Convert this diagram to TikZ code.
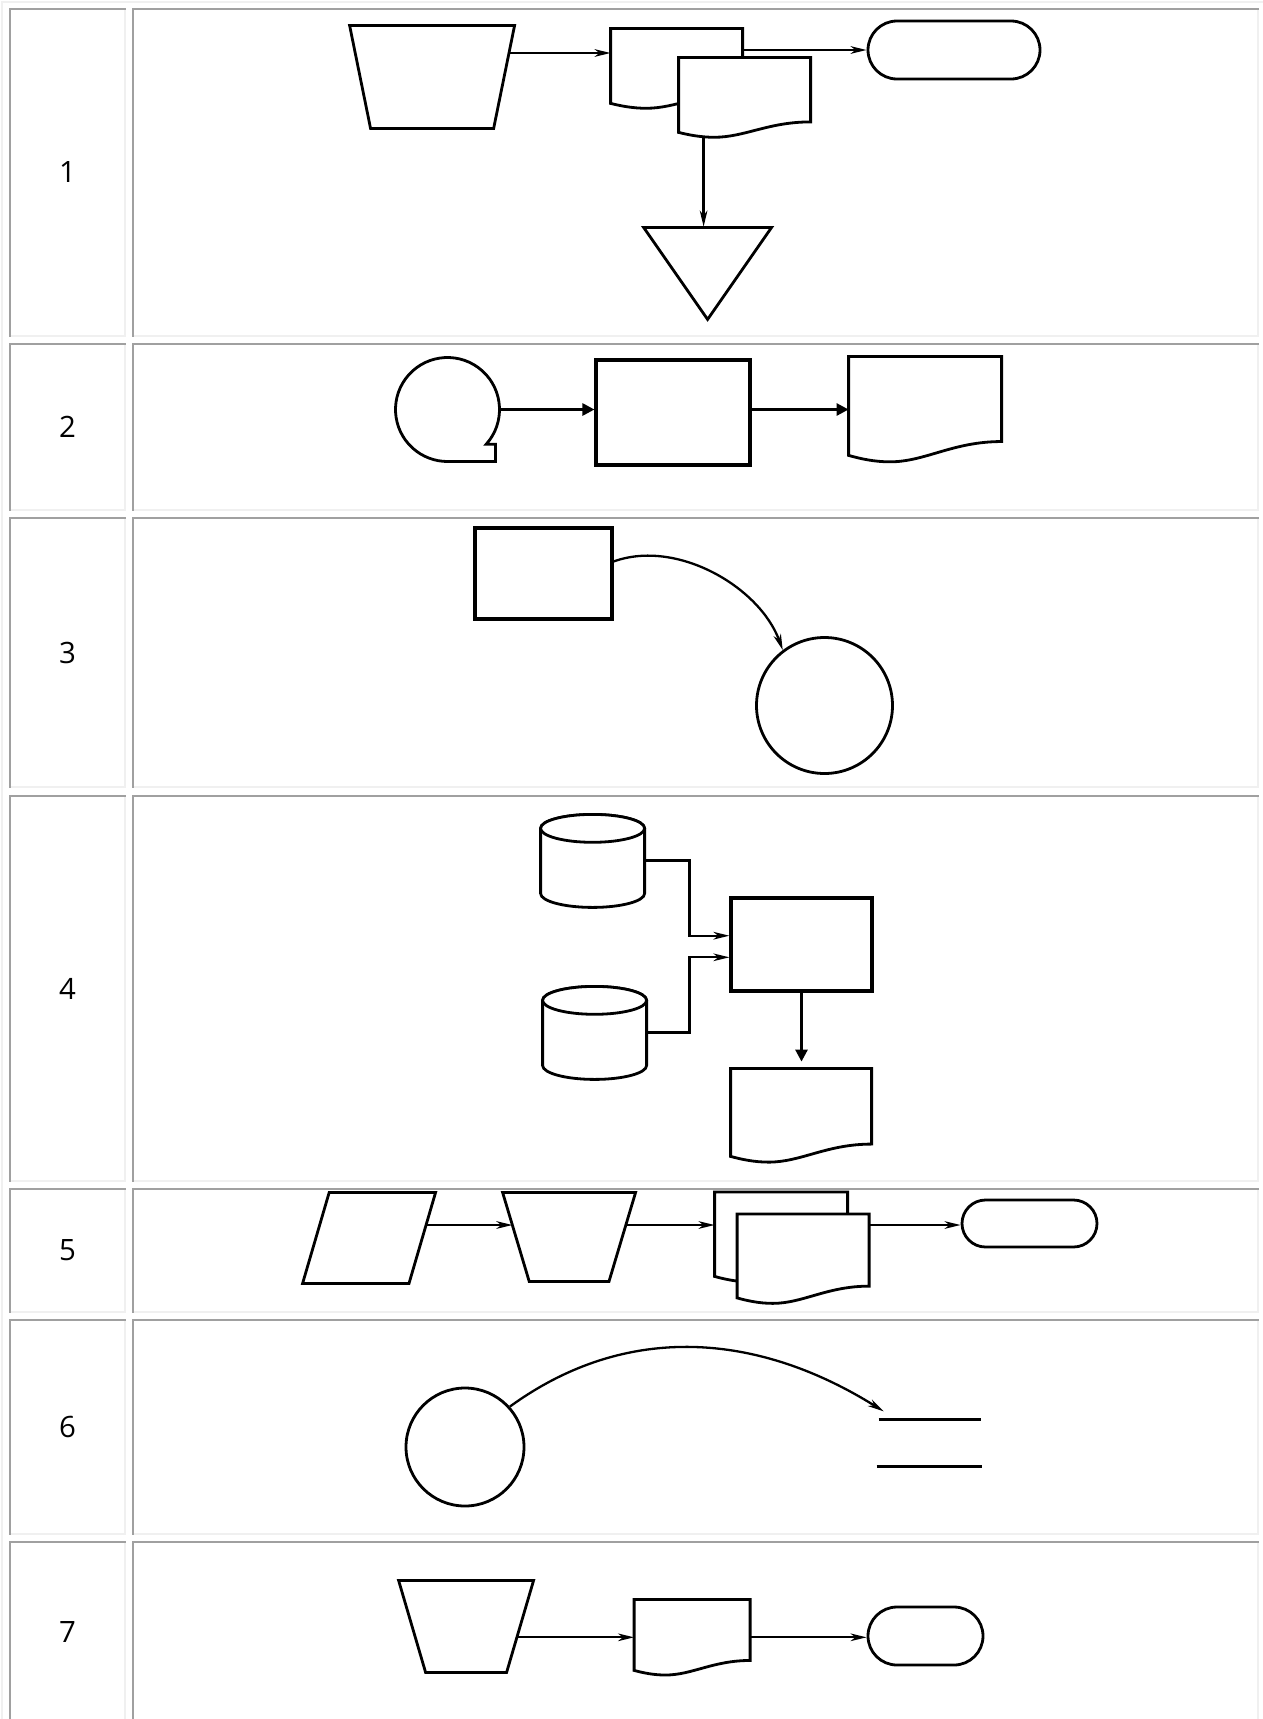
\documentclass[tikz,border=0pt]{standalone}
\usepackage{fontspec}
\newfontfamily\labelfont{Open Sans}
\usepackage{tikz}
\usetikzlibrary{arrows.meta,calc}
\usepackage{xcolor}
\definecolor{celldark}{HTML}{A0A0A0}
\definecolor{celllight}{HTML}{F0F0F0}
\tikzset{
  outline/.style={draw=black,line width=1.4pt,fill=white,line join=miter},
  flowline/.style={-{Stealth[length=8pt,width=3.8pt,inset=2.4pt]},line width=1.15pt},
  flowsolid/.style={-{Triangle[length=6pt,width=6pt]},line width=1.35pt},
  edgedark/.style={draw=celldark,line width=1pt,line cap=rect},
  edgelight/.style={draw=celllight,line width=1pt,line cap=rect},
  rowlabel/.style={font=\labelfont\fontsize{14.7}{17}\selectfont,inner sep=0pt},
  boxnode/.style 2 args={draw=none,rectangle,inner sep=0pt,minimum width=#1,minimum height=#2},
  procbox/.style 2 args={boxnode={#1}{#2},draw=black,line width=1.55pt,fill=white},
  termbox/.style n args={3}{boxnode={#1}{#2},draw=black,line width=1.4pt,fill=white,rounded corners=#3},
  circbox/.style={circle,draw=black,line width=1.4pt,fill=white,inner sep=0pt,minimum size=#1},
  docbox/.style 2 args={boxnode={#1}{#2},append after command={\pgfextra{\begin{pgfinterruptpath}
    \draw[outline,shift={(\tikzlastnode.south west)},x=#1,y=#2]
      (0,0) -- (0,1) -- (1,1) -- (1,0.14) .. controls (0.68,0.14) and (0.5,-0.065) .. (0.27,-0.065)
      .. controls (0.17,-0.065) and (0.08,-0.035) .. (0,0) -- cycle;
    \end{pgfinterruptpath}}}},
  manbox/.style n args={3}{boxnode={#1}{#2},append after command={\pgfextra{\begin{pgfinterruptpath}
    \draw[outline,shift={(\tikzlastnode.south west)},x=#1,y=#2] (0,1) -- (1,1) -- ({1-#3},0) -- (#3,0) -- cycle;
    \end{pgfinterruptpath}}}},
  databox/.style n args={3}{boxnode={#1}{#2},append after command={\pgfextra{\begin{pgfinterruptpath}
    \draw[outline,shift={(\tikzlastnode.south west)},x=#1,y=#2] (0,0) -- ({1-#3},0) -- (1,1) -- (#3,1) -- cycle;
    \end{pgfinterruptpath}}}},
  mergebox/.style 2 args={boxnode={#1}{#2},append after command={\pgfextra{\begin{pgfinterruptpath}
    \draw[outline,shift={(\tikzlastnode.south west)},x=#1,y=#2] (0,1) -- (1,1) -- (0.5,0) -- cycle;
    \end{pgfinterruptpath}}}},
  dbbox/.style n args={3}{boxnode={#1}{#2},append after command={\pgfextra{\begin{pgfinterruptpath}
    \draw[outline,shift={(\tikzlastnode.south west)},x=#1,y=#2] (0,{1-#3}) -- (0,#3)
      arc[start angle=180,end angle=360,x radius=0.5,y radius=#3] -- (1,{1-#3})
      arc[start angle=0,end angle=180,x radius=0.5,y radius=#3] -- cycle;
    \draw[outline,shift={(\tikzlastnode.south west)},x=#1,y=#2] (0.5,{1-#3}) ellipse[x radius=0.5,y radius=#3];
    \end{pgfinterruptpath}}}},
  storebox/.style 2 args={boxnode={#1}{#2},append after command={\pgfextra{\begin{pgfinterruptpath}
    \draw[outline] ([xshift=1pt]\tikzlastnode.north west) -- ([xshift=-0.5pt]\tikzlastnode.north east);
    \draw[outline,line width=1.55pt] (\tikzlastnode.south west) -- (\tikzlastnode.south east);
    \end{pgfinterruptpath}}}},
  tapebox/.style={circle,inner sep=0pt,minimum size=52pt,append after command={\pgfextra{\begin{pgfinterruptpath}
    \draw[outline,shift={(\tikzlastnode.center)}] (-42:52) arc[start angle=-42,end angle=270,radius=52]
      -- (48,-52) -- (48,-34.8) -- cycle;
    \end{pgfinterruptpath}}}}
}

\begin{document}
\begin{tikzpicture}[x=0.5pt,y=0.5pt]
  \useasboundingbox (0,0) rectangle (1263,-1719);
  % table
  \draw[edgelight] (2,-1719) -- (2,-2) -- (1263,-2);
  \draw[edgelight] (125,-9) |- (10,-336);    \draw[edgedark] (10,-336) |- (125,-9);
  \draw[edgelight] (1258,-9) |- (133,-336);  \draw[edgedark] (133,-336) |- (1258,-9);
  \draw[edgelight] (125,-344) |- (10,-510);  \draw[edgedark] (10,-510) |- (125,-344);
  \draw[edgelight] (1258,-344) |- (133,-510); \draw[edgedark] (133,-510) |- (1258,-344);
  \draw[edgelight] (125,-518) |- (10,-787);  \draw[edgedark] (10,-787) |- (125,-518);
  \draw[edgelight] (1258,-518) |- (133,-787); \draw[edgedark] (133,-787) |- (1258,-518);
  \draw[edgelight] (125,-796) |- (10,-1181); \draw[edgedark] (10,-1181) |- (125,-796);
  \draw[edgelight] (1258,-796) |- (133,-1181); \draw[edgedark] (133,-1181) |- (1258,-796);
  \draw[edgelight] (125,-1189) |- (10,-1312); \draw[edgedark] (10,-1312) |- (125,-1189);
  \draw[edgelight] (1258,-1189) |- (133,-1312); \draw[edgedark] (133,-1312) |- (1258,-1189);
  \draw[edgelight] (125,-1320) |- (10,-1534); \draw[edgedark] (10,-1534) |- (125,-1320);
  \draw[edgelight] (1258,-1320) |- (133,-1534); \draw[edgedark] (133,-1534) |- (1258,-1320);
  \draw[edgelight] (125,-1542) |- (10,-1721); \draw[edgedark] (10,-1721) |- (125,-1542);
  \draw[edgelight] (1258,-1542) |- (133,-1721); \draw[edgedark] (133,-1721) |- (1258,-1542);
  \node[rowlabel] (lab1) at (67.5,-172.5) {1};
  \node[rowlabel] (lab2) at (67.5,-427) {2};
  \node[rowlabel] (lab3) at (67.5,-652.5) {3};
  \node[rowlabel] (lab4) at (67.5,-988.5) {4};
  \node[rowlabel] (lab5) at (67.5,-1250.5) {5};
  \node[rowlabel] (lab6) at (67.5,-1427) {6};
  \node[rowlabel] (lab7) at (67.5,-1631.5) {7};
  % row 1
  \node[manbox={82.5pt}{51.5pt}{0.127}] (manA) at (432.5,-76.5) {};
  \node[docbox={66pt}{37.5pt}] (docA) at (677,-65.5) {};
  \node[docbox={66pt}{37.5pt}] (docB) at (745,-94.5) {};
  \node[termbox={86pt}{29pt}{14.5pt}] (termA) at (954,-50) {};
  \node[mergebox={64pt}{46pt}] (mergeA) at (708,-273) {};
  \coordinate (outA) at ([xshift=-2.85pt,yshift=11.75pt]manA.east);
  \draw[flowline] (outA) -- (outA -| docA.west);
  \draw[flowline] ([yshift=7.75pt]docA.east) -- (termA.west);
  \coordinate (dropA) at ([xshift=12.5pt,yshift=-2.5pt]docB.south west);
  \draw[flowline] (dropA) -- (dropA |- mergeA.north);
  % row 2
  \node[tapebox] (tapeA) at (447.5,-409.5) {};
  \node[procbox={77pt}{52.5pt}] (procA) at (673,-412.5) {};
  \node[docbox={76.5pt}{49.5pt}] (docC) at (925.5,-405.5) {};
  \draw[flowsolid] (tapeA.east) -- (tapeA.east -| procA.west);
  \draw[flowsolid] (tapeA.east -| procA.east) -- (tapeA.east -| docC.west);
  % row 3
  \node[procbox={68.5pt}{45.5pt}] (procB) at (543.5,-573.5) {};
  \node[circbox=68pt] (connB) at (824.5,-705.5) {};
  \draw[flowline] ([yshift=6pt]procB.east) to[out=20,in=110,looseness=0.9] (connB.127);
  % row 4
  \node[dbbox={52pt}{46.5pt}{0.15}] (dbA) at (593,-860.5) {};
  \node[dbbox={52pt}{46.5pt}{0.15}] (dbB) at (595,-1032.5) {};
  \node[procbox={70.5pt}{46.5pt}] (procC) at (801.5,-944.5) {};
  \node[docbox={70.5pt}{44pt}] (docD) at (801.5,-1112) {};
  \draw[flowline] (dbA.east) -- ++(44,0) |- ([yshift=4.4pt]procC.west);
  \draw[flowline] (dbB.east) -- ++(42,0) |- ([yshift=-6.4pt]procC.west);
  \draw[flowsolid,shorten >=3pt] (procC.south) -- (docD.north);
  % row 5
  \node[databox={66.5pt}{45.5pt}{0.2}] (dataA) at (369.5,-1237.5) {};
  \node[manbox={66.5pt}{44.5pt}{0.2}] (manB) at (569.5,-1236.5) {};
  \node[docbox={66.5pt}{42.25pt}] (docE) at (781.5,-1233.75) {};
  \node[docbox={66pt}{42pt}] (docF) at (803.5,-1255.5) {};
  \node[termbox={67.5pt}{23.5pt}{11.75pt}] (termB) at (1029.5,-1223.5) {};
  \coordinate (outD) at ([xshift=-4.9pt,yshift=6.25pt]dataA.east);
  \draw[flowline] (outD) -- ([xshift=4.9pt,yshift=5.75pt]manB.west);
  \draw[flowline] ([xshift=-4.9pt,yshift=5.75pt]manB.east) -- (outD -| docE.west);
  \draw[flowline] (outD -| docF.east) -- (outD -| termB.west);
  % row 6
  \node[circbox=59pt] (connC) at (465,-1447) {};
  \node[storebox={52.5pt}{23.5pt}] (storeA) at (929.5,-1443) {};
  \draw[flowline] (connC.42) to[out=36,in=148] ([xshift=3.5pt,yshift=3.9pt]storeA.north west);
  % row 7
  \node[manbox={67.5pt}{46pt}{0.2}] (manC) at (466.5,-1626) {};
  \node[docbox={58pt}{35.5pt}] (docG) at (692.5,-1634.5) {};
  \node[termbox={57.5pt}{29pt}{14.5pt}] (termC) at (925.5,-1636) {};
  \coordinate (outG) at ([xshift=-8.4pt,yshift=-5.65pt]manC.east);
  \draw[flowline] (outG) -- (outG -| docG.west);
  \draw[flowline] (outG -| docG.east) -- (outG -| termC.west);
\end{tikzpicture}
\end{document}
